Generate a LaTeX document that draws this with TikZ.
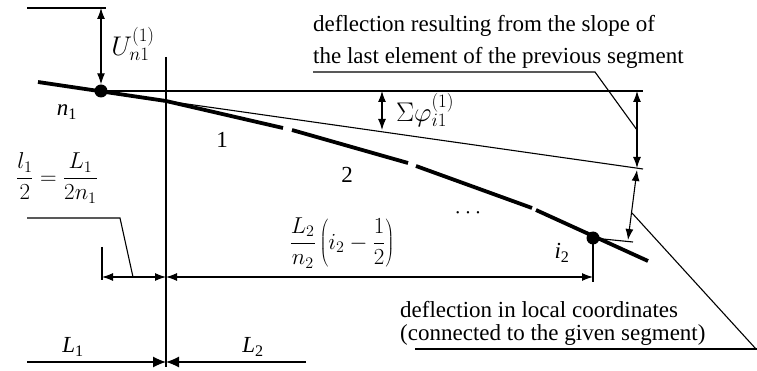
\RequirePackage{fix-cm}
\documentclass[tikz,border=0pt]{standalone}
\usepackage{fontspec}
\setmainfont{Liberation Serif}
\usetikzlibrary{arrows.meta}
\begin{document}
\begin{tikzpicture}[x=1pt,y=-1pt,
  thinline/.style={line width=1.1pt},
  beam/.style={line width=3.8pt},
  dimarrow/.style={line width=1.1pt,{Latex[length=11pt,width=8pt]}-{Latex[length=11pt,width=8pt]}},
  bigtip/.style={line width=1.1pt,-{Latex[length=13pt,width=11pt]}},
  dot/.style={circle,fill,inner sep=0pt,minimum size=13pt},
  lbl/.style={inner sep=0pt,font=\fontsize{23}{28}\selectfont},
  mlbl/.style={inner sep=0pt,font=\fontsize{23}{27}\selectfont},
  slbl/.style={inner sep=0pt,font=\fontsize{27}{31}\selectfont}]
\useasboundingbox (0,0) rectangle (757,371);
% nodes on the beam
\node[dot] (n1) at (101,91) {};
\node[dot] (i2) at (593,238) {};
% coordinates
\coordinate (b0) at (38,82);
\coordinate (v) at (166,101);
\coordinate (vt) at (166,57);
\coordinate (vb) at (166,367);
\coordinate (s1e) at (283,128);
\coordinate (s2s) at (292,130);
\coordinate (s2e) at (408,163);
\coordinate (s3s) at (416,166);
\coordinate (s3e) at (532,208);
\coordinate (s4s) at (536,210);
\coordinate (s4e) at (648,261);
\coordinate (tanE) at (643,169);
\coordinate (horE) at (643,91);
\coordinate (topL) at (27,8);
\coordinate (topR) at (106,8);
\coordinate (uTop) at (101,8);
% beam
\draw[beam] (b0) -- (v) -- (s1e);
\draw[beam] (s2s) -- (s2e);
\draw[beam] (s3s) -- (s3e);
\draw[beam] (s4s) -- (s4e);
% thin reference lines
\draw[thinline] (v) -- (tanE);
\draw[thinline] (n1.center) -- (horE);
\draw[thinline] (vt) -- (vb);
\draw[thinline] (topL) -- (topR);
\coordinate (locE) at (633,242);
\draw[thinline] (i2.center) -- (locE);
% U arrow
\draw[dimarrow] (uTop) -- (n1.north);
\node[slbl] (U) at (133,44) {$U_{n1}^{(1)}$};
% Sigma phi arrow
\coordinate (sp1) at (382,91);
\coordinate (sp2) at (382,130);
\draw[dimarrow] (sp1) -- (sp2);
\node[slbl,anchor=west] (SP) at (396,110) {$\Sigma\varphi_{i1}^{(1)}$};
% right arrows
\coordinate (r1) at (637,91);
\coordinate (r2) at (637,168);
\draw[dimarrow] (r1) -- (r2);
\coordinate (r3) at (637,170);
\coordinate (r4) at (628,240);
\draw[dimarrow] (r3) -- (r4);
% top leader and text
\coordinate (tl1) at (313,72);
\coordinate (tl2) at (595,72);
\coordinate (tl3) at (637,130);
\draw[thinline] (tl1) -- (tl2) -- (tl3);
\node[lbl,anchor=base west] (topA) at (313,32) {deflection resulting from the slope of};
\node[lbl,anchor=base west] (topB) at (313,64) {the last element of the previous segment};
% bottom leader and text
\coordinate (bl1) at (415,349);
\coordinate (bl2) at (757,349);
\coordinate (bl3) at (632,213);
\draw[thinline] (bl1) -- (bl2);
\draw[thinline] (bl3) -- (756,349);
\node[lbl,anchor=base west] (botA) at (400,317) {deflection in local coordinates};
\node[lbl,anchor=base west] (botB) at (400,340) {(connected to the given segment)};
% left leader
\coordinate (ll1) at (27,218);
\coordinate (ll2) at (120,218);
\coordinate (ll3) at (133,277);
\draw[thinline] (ll1) -- (ll2) -- (ll3);
\node[mlbl] (fr1) at (57,178) {$\displaystyle\frac{l_1}{2}=\frac{L_1}{2n_1}$};
% small dimension
\coordinate (tk1) at (102,247);
\coordinate (tk2) at (102,280);
\draw[thinline] (tk1) -- (tk2);
\coordinate (d1) at (102,277);
\coordinate (d2) at (166,277);
\draw[dimarrow] (d1) -- (d2);
% long dimension
\coordinate (iv) at (593,282);
\draw[thinline] (i2.center) -- (iv);
\coordinate (d3) at (593,277);
\draw[dimarrow] (d2) -- (d3);
\node[mlbl] (fr2) at (342,243) {$\displaystyle\frac{L_2}{n_2}\left(i_2-\frac{1}{2}\right)$};
% bottom dimensions
\coordinate (L1s) at (27,362);
\coordinate (Lm) at (166,362);
\coordinate (L2s) at (306,362);
\draw[bigtip] (L1s) -- (Lm);
\draw[bigtip] (L2s) -- (Lm);
% labels
\node[lbl] (lab1) at (222,140) {1};
\node[lbl] (lab2) at (347,175) {2};
\node[mlbl] (dots) at (468,213) {$\cdots$};
\node[lbl] (ln1) at (67,112) {\textit{n}\textsubscript{1}};
\node[lbl] (li2) at (562,253) {\textit{i}\textsubscript{2}};
\node[lbl] (lL1) at (73,347) {\textit{L}\textsubscript{1}};
\node[lbl] (lL2) at (253,347) {\textit{L}\textsubscript{2}};
\end{tikzpicture}
\end{document}
